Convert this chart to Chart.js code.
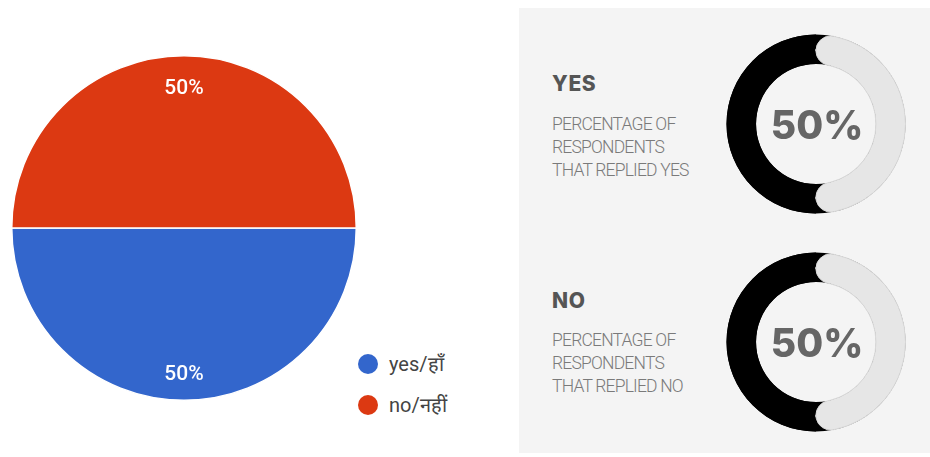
<!DOCTYPE html>
<html>
<head>
<meta charset="utf-8">
<script src="https://cdn.jsdelivr.net/npm/chart.js@4.4.0/dist/chart.umd.min.js"></script>
<style>
  html, body { margin: 0; padding: 0; background: #fff; width: 930px; height: 457px; overflow: hidden; }
  .abs { position: absolute; }
  #panel { left: 519px; top: 8px; width: 411px; height: 445px; background: #f4f4f4; }
  .legend { left: 358px; top: 343px; font-family: Roboto, Arial, sans-serif; font-size: 20px; color: #444; }
  .legend .item { display: flex; align-items: center; height: 41px; }
  .legend .dot { width: 20px; height: 20px; border-radius: 50%; margin-right: 11px; }
  .head { font-family: Inter, "Open Sans", sans-serif; font-weight: 800; font-size: 21px; color: #555; letter-spacing: 0.6px; }
  .desc { font-family: Roboto, sans-serif; font-weight: 300; font-size: 17.5px; line-height: 23px; color: #7a7a7a; letter-spacing: -0.8px; }
</style>
</head>
<body>
<div id="panel" class="abs"></div>
<canvas id="pie" class="abs" width="346" height="346" style="left:11px;top:55px"></canvas>
<div id="legend" class="abs legend"></div>

<div class="abs head" style="left:552px;top:71px">YES</div>
<div class="abs desc" style="left:552px;top:113px">PERCENTAGE OF<br>RESPONDENTS<br>THAT REPLIED YES</div>
<canvas id="ringYes" class="abs" width="180" height="180" style="left:726px;top:34px"></canvas>

<div class="abs head" style="left:552px;top:288px">NO</div>
<div class="abs desc" style="left:552px;top:329px">PERCENTAGE OF<br>RESPONDENTS<br>THAT REPLIED NO</div>
<canvas id="ringNo" class="abs" width="180" height="180" style="left:726px;top:252px"></canvas>

<script>
// Survey answers (percent of respondents)
const categories = ['yes/हाँ', 'no/नहीं'];
const answerShares = [50, 50];
const answerColors = ['#3366cc', '#dc3912'];

// Ring gauges: [share that gave the answer, everyone else]
const ringLabels = ['replied', 'others'];
const yesSplit = [50, 50];
const noSplit = [50, 50];

// Percent labels inside the pie slices
const sliceLabels = {
  id: 'sliceLabels',
  afterDatasetsDraw(chart) {
    const { ctx } = chart;
    const meta = chart.getDatasetMeta(0);
    const values = chart.data.datasets[0].data;
    const total = values.reduce((a, b) => a + b, 0);
    ctx.save();
    ctx.fillStyle = '#ffffff';
    ctx.font = '500 21px Roboto, Arial, sans-serif';
    ctx.textAlign = 'center';
    ctx.textBaseline = 'middle';
    meta.data.forEach((arc, i) => {
      const { x, y, startAngle, endAngle, outerRadius } = arc.getProps(['x', 'y', 'startAngle', 'endAngle', 'outerRadius'], true);
      const mid = (startAngle + endAngle) / 2;
      const r = outerRadius * 0.83;
      ctx.fillText(Math.round(values[i] / total * 100) + '%', x + Math.cos(mid) * r, y + Math.sin(mid) * r + 4);
    });
    ctx.restore();
  }
};

new Chart(document.getElementById('pie'), {
  type: 'pie',
  data: {
    labels: categories,
    datasets: [{ data: answerShares, backgroundColor: answerColors, borderColor: '#ffffff', borderWidth: 1.5 }]
  },
  options: {
    responsive: false,
    animation: false,
    rotation: 90,
    layout: { padding: 0 },
    plugins: { legend: { display: false }, tooltip: { enabled: false } }
  },
  plugins: [sliceLabels]
});

// Legend built from the same categories and colours
const legend = document.getElementById('legend');
categories.forEach((name, i) => {
  const item = document.createElement('div');
  item.className = 'item';
  const dot = document.createElement('span');
  dot.className = 'dot';
  dot.style.background = answerColors[i];
  const text = document.createElement('span');
  text.textContent = name;
  item.appendChild(dot);
  item.appendChild(text);
  legend.appendChild(item);
});

// Dark ring behind the track so the rounded track ends sit on black
const ringBackdrop = {
  id: 'ringBackdrop',
  beforeDatasetsDraw(chart) {
    const arc = chart.getDatasetMeta(0).data[0];
    if (!arc) return;
    const { x, y, innerRadius, outerRadius } = arc.getProps(['x', 'y', 'innerRadius', 'outerRadius'], true);
    const ctx = chart.ctx;
    ctx.save();
    ctx.beginPath();
    ctx.arc(x, y, outerRadius, 0, Math.PI * 2);
    ctx.arc(x, y, innerRadius, Math.PI * 2, 0, true);
    ctx.closePath();
    ctx.fillStyle = '#000000';
    ctx.fill();
    ctx.restore();
  }
};

// Big percentage in the middle of each ring
const ringCenter = {
  id: 'ringCenter',
  afterDraw(chart) {
    const arc = chart.getDatasetMeta(0).data[0];
    const values = chart.data.datasets[0].data;
    const total = values.reduce((a, b) => a + b, 0);
    const ctx = chart.ctx;
    ctx.save();
    ctx.fillStyle = '#666666';
    ctx.font = '800 39px Inter, "Open Sans", sans-serif';
    ctx.textAlign = 'center';
    ctx.textBaseline = 'middle';
    ctx.fillText(Math.round(values[0] / total * 100) + '%', arc.x + 1, arc.y + 3);
    ctx.restore();
  }
};

function ring(id, split) {
  new Chart(document.getElementById(id), {
    type: 'doughnut',
    data: {
      labels: ringLabels,
      datasets: [{
        data: split,
        backgroundColor: ['#000000', '#e6e6e6'],
        borderColor: ['#000000', '#d9d9d9'],
        borderWidth: [0, 1],
        borderRadius: (c) => c.dataIndex === 1 ? 15 : 0
      }]
    },
    options: {
      responsive: false,
      animation: false,
      rotation: 180,
      cutout: '67%',
      layout: { padding: 0 },
      plugins: { legend: { display: false }, tooltip: { enabled: false } }
    },
    plugins: [ringBackdrop, ringCenter]
  });
}
ring('ringYes', yesSplit);
ring('ringNo', noSplit);
</script>
</body>
</html>
